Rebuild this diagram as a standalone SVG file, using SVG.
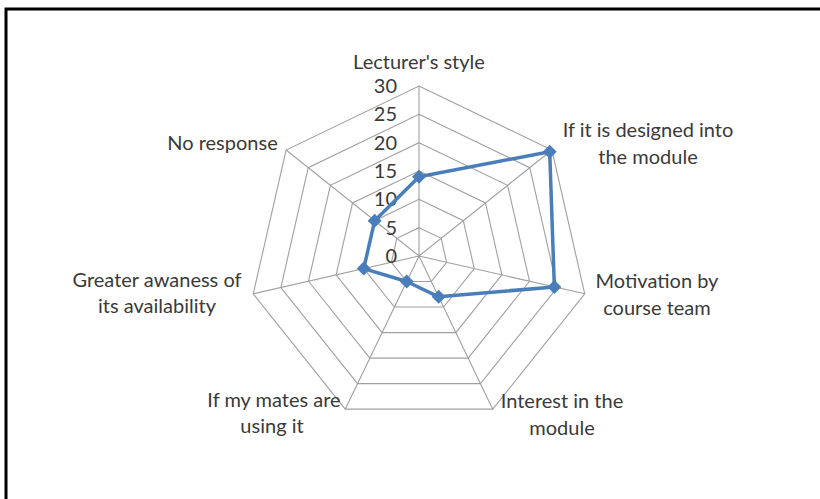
<svg xmlns="http://www.w3.org/2000/svg" width="820" height="499" viewBox="0 0 820 499">
<style>
.grid{fill:none;stroke:#a0a0a0;stroke-width:1.1}
.lbl{font-family:Lato,"Liberation Sans",sans-serif;font-size:20px;fill:#3a3a3a;text-anchor:middle}
.tick{font-family:Lato,"Liberation Sans",sans-serif;font-size:20px;fill:#3a3a3a;text-anchor:end}
.series{fill:none;stroke:#4a7ebb;stroke-width:3.5;stroke-linejoin:round}
.mk{fill:#4a7ebb}
</style>
<defs>
<path id="dia" d="M0,-7 L7,0 L0,7 L-7,0 Z"/>
</defs>
<rect x="0" y="0" width="820" height="499" fill="#ffffff"/>
<path d="M6,499 V9 H820" fill="none" stroke="#000" stroke-width="3"/>
<g id="grid">
<polygon class="grid" points="419,227.67 441.15,238.33 446.62,262.30 431.29,281.53 406.71,281.53 391.38,262.30 396.85,238.33"/>
<polygon class="grid" points="419,199.33 463.30,220.67 474.25,268.61 443.59,307.06 394.41,307.06 363.75,268.61 374.70,220.67"/>
<polygon class="grid" points="419,171 485.46,203 501.87,274.91 455.88,332.58 382.12,332.58 336.13,274.91 352.54,203"/>
<polygon class="grid" points="419,142.67 507.61,185.34 529.49,281.22 468.17,358.11 369.83,358.11 308.51,281.22 330.39,185.34"/>
<polygon class="grid" points="419,114.33 529.76,167.67 557.12,287.52 480.47,383.64 357.53,383.64 280.88,287.52 308.24,167.67"/>
<polygon class="grid" points="419,86 551.91,150.01 584.74,293.83 492.76,409.16 345.24,409.16 253.26,293.83 286.09,150.01"/>
<path class="grid" d="M419,256 L419,86 M419,256 L551.91,150.01 M419,256 L584.74,293.83 M419,256 L492.76,409.16 M419,256 L345.24,409.16 M419,256 L253.26,293.83 M419,256 L286.09,150.01"/>
</g>
<g id="ticks">
<text class="tick" x="397" y="263">0</text>
<text class="tick" x="397" y="234.7">5</text>
<text class="tick" x="397" y="206.3">10</text>
<text class="tick" x="397" y="178">15</text>
<text class="tick" x="397" y="149.7">20</text>
<text class="tick" x="397" y="121.3">25</text>
<text class="tick" x="397" y="93">30</text>
</g>
<g id="connectors">
<polygon class="series" points="419,176.67 549.70,151.77 554.35,286.89 438.67,296.85 406.71,281.53 363.75,268.61 374.70,220.67"/>
</g>
<g id="markers">
<use href="#dia" class="mk" x="419" y="176.67"/>
<use href="#dia" class="mk" x="549.70" y="151.77"/>
<use href="#dia" class="mk" x="554.35" y="286.89"/>
<use href="#dia" class="mk" x="438.67" y="296.85"/>
<use href="#dia" class="mk" x="406.71" y="281.53"/>
<use href="#dia" class="mk" x="363.75" y="268.61"/>
<use href="#dia" class="mk" x="374.70" y="220.67"/>
</g>
<g id="node-lecturer"><text class="lbl" x="419" y="69">Lecturer's style</text></g>
<g id="node-designed"><text class="lbl" x="648" y="137">If it is designed into</text><text class="lbl" x="648" y="164">the module</text></g>
<g id="node-motivation"><text class="lbl" x="657" y="288">Motivation by</text><text class="lbl" x="657" y="315">course team</text></g>
<g id="node-interest"><text class="lbl" x="562" y="408">Interest in the</text><text class="lbl" x="562" y="435">module</text></g>
<g id="node-mates"><text class="lbl" x="274" y="407">If my mates are</text><text class="lbl" x="272" y="433">using it</text></g>
<g id="node-awareness"><text class="lbl" x="157" y="287">Greater awaness of</text><text class="lbl" x="157" y="313">its availability</text></g>
<g id="node-noresponse"><text class="lbl" x="222.5" y="150">No response</text></g>
</svg>
